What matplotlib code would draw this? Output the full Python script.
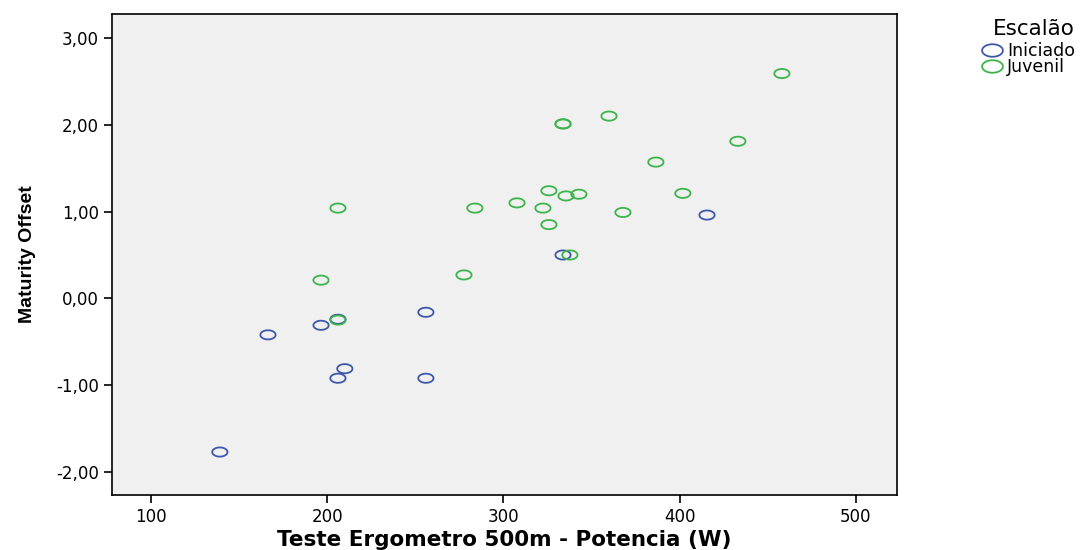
import matplotlib
matplotlib.use("Agg")
import matplotlib.pyplot as plt
import numpy as np
from matplotlib.path import Path
from matplotlib.ticker import FuncFormatter, FixedLocator
from matplotlib.lines import Line2D

# Data
iniciado_x = [139.1, 166.4, 196.5, 206.1, 256.0, 210.0, 206.1, 256.0, 333.8, 415.5]
iniciado_y = [-1.77, -0.42, -0.31, -0.24, -0.16, -0.81, -0.92, -0.92, 0.50, 0.96]

juvenil_x = [458.0, 359.9, 333.8, 333.8, 386.5, 433.0, 325.8, 342.8, 335.5, 307.7,
             322.4, 283.8, 206.1, 367.8, 401.8, 325.8, 337.7, 277.6, 196.5, 206.1]
juvenil_y = [2.59, 2.10, 2.01, 2.01, 1.57, 1.81, 1.24, 1.20, 1.18, 1.10,
             1.04, 1.04, 1.04, 0.99, 1.21, 0.85, 0.50, 0.27, 0.21, -0.25]

x_ticks = [100, 200, 300, 400, 500]
y_ticks = [-2, -1, 0, 1, 2, 3]

blue = "#3f57ab"
green = "#3bb54a"

theta = np.linspace(0, 2 * np.pi, 60)
ellipse = Path(np.column_stack([np.cos(theta), 0.6 * np.sin(theta)]))

fig = plt.figure(figsize=(10.92, 5.5), dpi=100)
ax = fig.add_axes([112 / 1092, 1 - 495 / 550, (897 - 112) / 1092, (495 - 14) / 550])
ax.set_facecolor("#f0f0f0")

ax.scatter(iniciado_x, iniciado_y, marker=ellipse, s=11 ** 2, facecolors="none",
           edgecolors=blue, linewidths=1.3, zorder=3)
ax.scatter(juvenil_x, juvenil_y, marker=ellipse, s=11 ** 2, facecolors="none",
           edgecolors=green, linewidths=1.3, zorder=3)

ax.set_xlim(77.9, 523.3)
ax.set_ylim(-2.265, 3.276)
ax.xaxis.set_major_locator(FixedLocator(x_ticks))
ax.yaxis.set_major_locator(FixedLocator(y_ticks))
ax.yaxis.set_major_formatter(FuncFormatter(lambda v, p: f"{v:.2f}".replace(".", ",")))
ax.tick_params(axis="both", direction="out", length=6, width=1.2, labelsize=12,
               colors="black", top=False, right=False)
for s in ax.spines.values():
    s.set_linewidth(1.2)
    s.set_color("black")

ax.set_xlabel("Teste Ergometro 500m - Potencia (W)", fontsize=15.5, fontweight="bold",
              labelpad=3)
ax.set_ylabel("Maturity Offset", fontsize=14, fontweight="bold",
              family=["Liberation Sans", "DejaVu Sans"], labelpad=14)

handles = [
    Line2D([], [], linestyle="none", marker=ellipse, markersize=15, markerfacecolor="none",
           markeredgecolor=blue, markeredgewidth=1.3),
    Line2D([], [], linestyle="none", marker=ellipse, markersize=15, markerfacecolor="none",
           markeredgecolor=green, markeredgewidth=1.3),
]
leg = fig.legend(handles, ["Iniciado", "Juvenil"], title="Escalão", loc="upper left",
                 bbox_to_anchor=(0.9, 0.965), frameon=False, fontsize=12.5,
                 title_fontsize=15.5, handlelength=1.1, handletextpad=0.3,
                 labelspacing=-0.1, borderaxespad=0, borderpad=0)
leg._legend_box.align = "right"
leg._legend_box.sep = 2

fig.savefig("out.png", dpi=100)
